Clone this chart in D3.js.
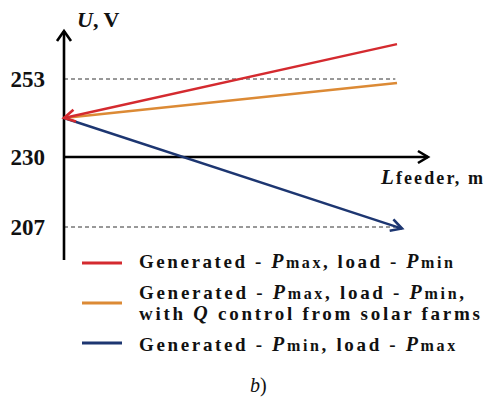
<!DOCTYPE html>
<html><head><meta charset="utf-8">
<script src="https://cdn.jsdelivr.net/npm/d3@7/dist/d3.min.js"></script>
<style>body{margin:0;background:#fff}svg{display:block}</style>
</head><body><svg id="c" width="486" height="403"></svg>
<script>
// Data
const yTicks = [207, 230, 253];
const dashedLevels = [207, 253];
const redLine = [[0, 241.5], [1.0, 263.3]];
const orangeLine = [[0, 241.5], [1.0, 251.8]];
const blueLine = [[0, 241.5], [1.015, 206.5]];
const colors = {red: "#d42a2f", orange: "#dc8a35", blue: "#1d3671"};
const FONT = "'Liberation Serif', 'DejaVu Serif', 'Times New Roman', Times, serif";

const svg = d3.select("#c").attr("font-family", FONT);
const x = d3.scaleLinear().domain([0, 1]).range([64, 397]);
const y = d3.scaleLinear().domain(yTicks).range([227, 157, 79]);

function fitWidth(t, target) {
  const n = t.text().length;
  const w = t.node().getComputedTextLength();
  if (n > 1 && w < target) t.attr("letter-spacing", ((target - w) / (n - 1)).toFixed(2));
}

// dashed reference lines
svg.selectAll("line.dash").data(dashedLevels).enter().append("line")
  .attr("x1", x(0)).attr("x2", x(0.995)).attr("y1", d => y(d)).attr("y2", d => y(d))
  .attr("stroke", "#333").attr("stroke-width", 1).attr("stroke-dasharray", "4,3");

// axes
const axW = 2.6;
svg.append("line").attr("x1", x(0)).attr("x2", x(0)).attr("y1", 260).attr("y2", 31)
  .attr("stroke", "#000").attr("stroke-width", axW);
svg.append("path").attr("d", `M${x(0)-7},${41} L${x(0)},${31} L${x(0)+7},${41}`)
  .attr("fill", "none").attr("stroke", "#000").attr("stroke-width", axW);
const xEnd = x(1.093);
svg.append("line").attr("x1", x(0)).attr("x2", xEnd).attr("y1", y(230)).attr("y2", y(230))
  .attr("stroke", "#000").attr("stroke-width", axW);
svg.append("path").attr("d", `M${xEnd-10},${y(230)-6} L${xEnd},${y(230)} L${xEnd-10},${y(230)+6}`)
  .attr("fill", "none").attr("stroke", "#000").attr("stroke-width", axW);

// tick labels
svg.selectAll("text.tick").data(yTicks).enter().append("text")
  .attr("x", 45).attr("y", d => y(d) + 8).attr("text-anchor", "end").attr("fill", "#111")
  .attr("font-size", 23).attr("font-weight", "bold").text(d => d);

// axis titles
const ut = svg.append("text").attr("x", 77).attr("y", 27).attr("font-size", 22).attr("font-weight", "bold").attr("fill", "#111");
ut.append("tspan").attr("font-style", "italic").text("U");
ut.append("tspan").text(", V");
fitWidth(ut, 42);
const lt = svg.append("text").attr("x", 381).attr("y", 184).attr("font-weight", "bold").attr("fill", "#111");
lt.append("tspan").attr("font-style", "italic").attr("font-size", 21).text("L");
lt.append("tspan").attr("font-size", 18).text("feeder, m");
fitWidth(lt, 102);

// series lines
const line = d3.line().x(d => x(d[0])).y(d => y(d[1]));
svg.append("path").datum(orangeLine).attr("d", line).attr("stroke", colors.orange).attr("stroke-width", 2.6).attr("fill", "none");
svg.append("path").datum(redLine).attr("d", line).attr("stroke", colors.red).attr("stroke-width", 2.4).attr("fill", "none");
svg.append("path").datum(blueLine).attr("d", line).attr("stroke", colors.blue).attr("stroke-width", 2.4).attr("fill", "none");

function arrowHead(tip, from, color, len, half) {
  const tx = x(tip[0]), ty = y(tip[1]), fx = x(from[0]), fy = y(from[1]);
  const a = Math.atan2(ty - fy, tx - fx);
  const p1 = [tx - len*Math.cos(a) + half*Math.sin(a), ty - len*Math.sin(a) - half*Math.cos(a)];
  const p2 = [tx - len*Math.cos(a) - half*Math.sin(a), ty - len*Math.sin(a) + half*Math.cos(a)];
  svg.append("path").attr("d", `M${p1[0]},${p1[1]} L${tx},${ty} L${p2[0]},${p2[1]}`)
    .attr("fill", "none").attr("stroke", color).attr("stroke-width", 2.6);
}
arrowHead(redLine[0], redLine[1], colors.red, 11, 6);
arrowHead(blueLine[1], blueLine[0], colors.blue, 11, 6);

// legend
const legendRows = [
  {c: "red", y: 263, lines: [[["Generated - ",0],["P",1],["max",2],[", load - ",0],["P",1],["min",2]]], ty: [268], w: [314]},
  {c: "orange", y: 303, lines: [[["Generated - ",0],["P",1],["max",2],[", load - ",0],["P",1],["min",2],[",",0]],
                                 [["with ",0],["Q",1],[" control from solar farms",0]]], ty: [299, 320], w: [325, 341]},
  {c: "blue", y: 343, lines: [[["Generated - ",0],["P",1],["min",2],[", load - ",0],["P",1],["max",2]]], ty: [351], w: [316]}
];
legendRows.forEach(r => {
  svg.append("line").attr("x1", 82).attr("x2", 122).attr("y1", r.y).attr("y2", r.y)
    .attr("stroke", colors[r.c]).attr("stroke-width", 3);
  r.lines.forEach((ln, i) => {
    const t = svg.append("text").attr("x", 139).attr("y", r.ty[i]).attr("font-weight", "bold").attr("font-size", 19).attr("fill", "#111");
    ln.forEach(s => {
      const sp = t.append("tspan").text(s[0]);
      if (s[1] === 1) sp.attr("font-style", "italic").attr("font-size", 20);
      if (s[1] === 2) sp.attr("font-size", 16);
    });
    fitWidth(t, r.w[i]);
  });
});

const bt = svg.append("text").attr("x", 250).attr("y", 392).attr("font-size", 20).attr("fill", "#111");
bt.append("tspan").attr("font-style", "italic").text("b");
bt.append("tspan").text(")");
</script></body></html>
